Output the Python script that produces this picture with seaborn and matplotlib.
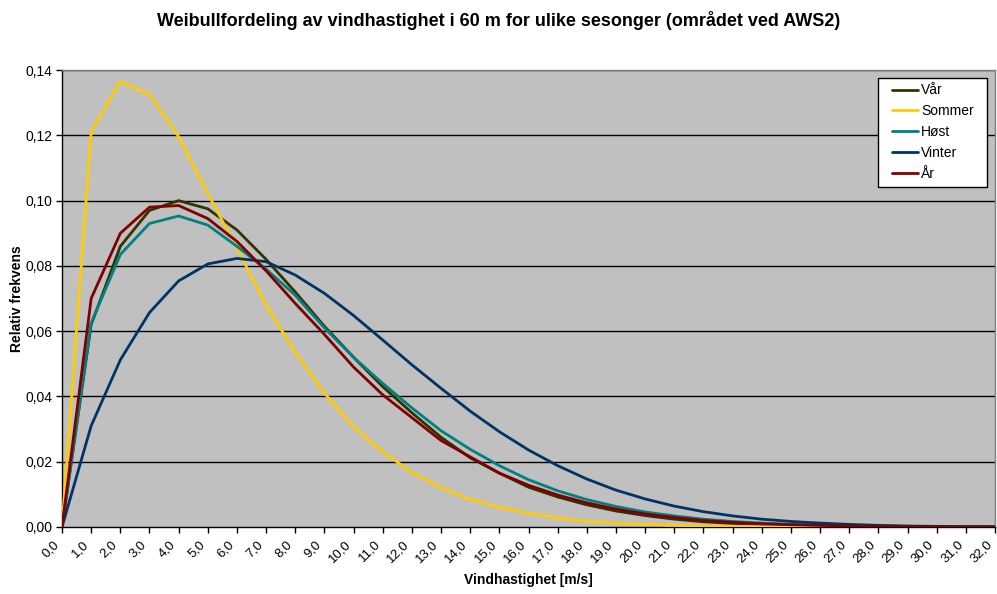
import numpy as np
import pandas as pd
import matplotlib
matplotlib.use("Agg")
import matplotlib.pyplot as plt
import matplotlib.transforms as mtransforms
from matplotlib.patches import Rectangle
import seaborn as sns

# ----------------------------------------
# Data
# ----------------------------------------
speed = list(range(0, 33))

var = [0, 0.062, 0.086, 0.097, 0.100, 0.0975, 0.091, 0.082, 0.072, 0.0615,
       0.052, 0.043, 0.035, 0.0275, 0.0212, 0.0165, 0.0122, 0.0092, 0.0068,
       0.0049, 0.0035, 0.0024, 0.0016, 0.0011, 0.0007, 0.0005, 0.0003,
       0.0002, 0.0001, 0.0001, 0, 0, 0]
sommer = [0, 0.1211, 0.1365, 0.1326, 0.1196, 0.1022, 0.0854, 0.068, 0.0535,
          0.041, 0.0307, 0.023, 0.0168, 0.012, 0.0085, 0.006, 0.0042,
          0.0028, 0.0018, 0.0012, 0.0008, 0.0005, 0.0003, 0.0002, 0.0001,
          0.0001, 0, 0, 0, 0, 0, 0, 0]
host = [0, 0.0625, 0.0835, 0.093, 0.0953, 0.0925, 0.086, 0.079, 0.071,
        0.061, 0.052, 0.044, 0.0365, 0.0295, 0.0238, 0.0188, 0.0145, 0.0111,
        0.0084, 0.0063, 0.0046, 0.0034, 0.0024, 0.0017, 0.0012, 0.0008,
        0.0006, 0.0004, 0.0003, 0.0002, 0.0001, 0.0001, 0]
vinter = [0, 0.031, 0.0512, 0.0657, 0.0754, 0.0806, 0.0823, 0.0813, 0.0772,
          0.0716, 0.0648, 0.0573, 0.0497, 0.0425, 0.0355, 0.0292, 0.0236,
          0.0188, 0.0147, 0.0113, 0.0086, 0.0064, 0.0047, 0.0034, 0.0024,
          0.0017, 0.0012, 0.0008, 0.0005, 0.0003, 0.0002, 0.0001, 0.0001]
aar = [0, 0.070, 0.090, 0.098, 0.0985, 0.0945, 0.0875, 0.0785, 0.0685,
       0.059, 0.049, 0.0405, 0.0335, 0.0265, 0.0215, 0.0165, 0.0128, 0.0098,
       0.0074, 0.0055, 0.004, 0.0029, 0.002, 0.0014, 0.001, 0.0007, 0.0005,
       0.0003, 0.0002, 0.0001, 0.0001, 0, 0]

series = {"Vår": var, "Sommer": sommer, "Høst": host, "Vinter": vinter, "År": aar}
colors = {"Vår": "#333300", "Sommer": "#FFCC00", "Høst": "#008080",
          "Vinter": "#003366", "År": "#800000"}

x_labels = [f"{v:.1f}".replace(".", ",") for v in speed]
y_ticks = [0, 0.02, 0.04, 0.06, 0.08, 0.10, 0.12, 0.14]

rows = []
for name, vals in series.items():
    for s, v in zip(speed, vals):
        rows.append({"speed": s, "freq": v, "season": name})
df = pd.DataFrame(rows)

# ----------------------------------------
# Plot
# ----------------------------------------
sns.set_style("white")
plt.rcParams["font.family"] = ["Liberation Sans", "DejaVu Sans"]
plt.rcParams["text.color"] = "black"
plt.rcParams["axes.labelcolor"] = "black"
plt.rcParams["xtick.color"] = "black"
plt.rcParams["ytick.color"] = "black"

fig = plt.figure(figsize=(9.97, 5.94), dpi=100)
ax = fig.add_axes([0.0622, 0.1128, 0.9358, 0.7692])
ax.set_facecolor("#C0C0C0")

for y in y_ticks[1:]:
    ax.axhline(y, color="black", lw=1.0, zorder=1)

sns.lineplot(data=df, x="speed", y="freq", hue="season", palette=colors,
             hue_order=list(series.keys()), lw=2, ax=ax, zorder=3)

ax.set_xlim(0, 32)
ax.set_ylim(0, 0.14)
ax.set_xticks(speed)
ax.set_xticklabels(x_labels, rotation=45, ha="right", va="top",
                   rotation_mode="anchor", fontsize=9.5)
ax.set_yticks(y_ticks)
ax.set_yticklabels([f"{v:.2f}".replace(".", ",") for v in y_ticks], fontsize=10)
ax.tick_params(axis="both", direction="out", length=4, width=1,
               color="black", bottom=True, left=True)
ax.tick_params(axis="x", pad=4)
ax.tick_params(axis="y", pad=3)

for side in ["top", "right"]:
    ax.spines[side].set_color("#808080")
    ax.spines[side].set_linewidth(1)
for side in ["bottom", "left"]:
    ax.spines[side].set_color("black")
    ax.spines[side].set_linewidth(1)

ax.set_xlabel("Vindhastighet [m/s]", fontsize=10, fontweight="bold", labelpad=6)
ax.set_ylabel("Relativ frekvens", fontsize=10, fontweight="bold", labelpad=1)

fig.suptitle("Weibullfordeling av vindhastighet i 60 m for ulike sesonger (området ved AWS2)",
             fontsize=13, fontweight="bold", y=0.982)

leg = ax.legend(loc="upper right", bbox_to_anchor=(0.983, 0.983), fontsize=10,
                frameon=False, handlelength=1.9, handletextpad=0.2,
                borderpad=0.4, labelspacing=0.5, borderaxespad=0.0)
leg.set_zorder(6)

fig.canvas.draw()

# shift rotated x tick labels so they end just left of their tick
shift = mtransforms.ScaledTranslation(-9 / 100, 0, fig.dpi_scale_trans)
for lab in ax.get_xticklabels():
    lab.set_transform(lab.get_transform() + shift)

# legend box with wider side padding, like the reference
bb = leg.get_window_extent().transformed(fig.transFigure.inverted())
padx = 8 / fig.bbox.width
box = Rectangle((bb.x0 - padx, bb.y0), bb.width + 2 * padx, bb.height,
                transform=fig.transFigure, facecolor="white", edgecolor="black",
                lw=1, zorder=5)
fig.patches.append(box)
leg.remove()
fig.add_artist(leg)

plt.savefig("out.png", dpi=100)
